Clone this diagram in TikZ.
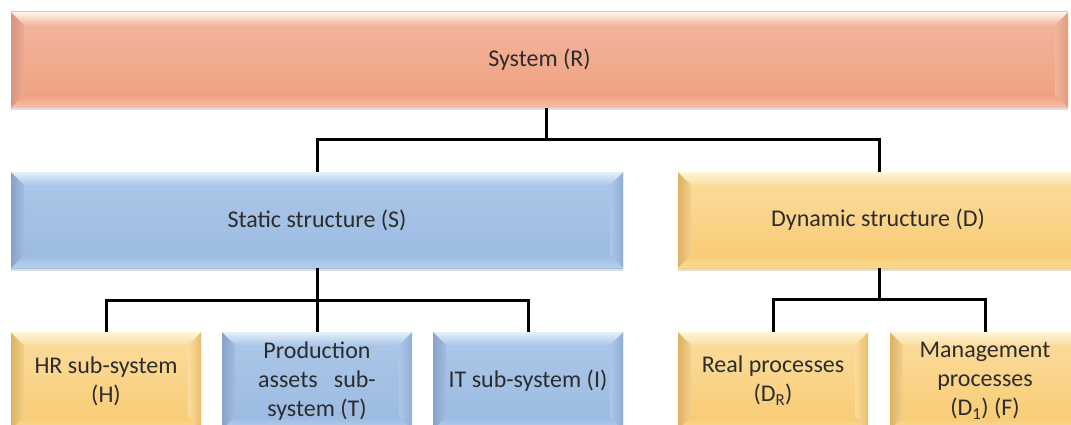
\documentclass[tikz,border=0pt]{standalone}
\usepackage{fontspec}
\setmainfont{Carlito}
\usetikzlibrary{calc,shadows}

% fill colours: top / bottom of the face, highlight and shaded bevel edge
\definecolor{salTop}{HTML}{F2B69F}
\definecolor{salBot}{HTML}{F1A07E}
\definecolor{salHi}{HTML}{FFF4E6}
\definecolor{salLo}{HTML}{D6957C}
\definecolor{bluTop}{HTML}{ACC7E8}
\definecolor{bluBot}{HTML}{9BBAE2}
\definecolor{bluHi}{HTML}{E6F0FA}
\definecolor{bluLo}{HTML}{86A2C9}
\definecolor{yelTop}{HTML}{FCDD9F}
\definecolor{yelBot}{HTML}{F8CA72}
\definecolor{yelHi}{HTML}{FFF6D8}
\definecolor{yelLo}{HTML}{DDB262}
\definecolor{ink}{HTML}{2C2C2C}

\tikzset{
  % bevelled box: #1 face top, #2 face bottom, #3 highlight, #4 dark edge
  bevel/.style n args={4}{
    top color=#1, bottom color=#2, draw=none,
    path picture={
      \path (path picture bounding box.north west) coordinate (bnw)
            (path picture bounding box.north east) coordinate (bne)
            (path picture bounding box.south west) coordinate (bsw)
            (path picture bounding box.south east) coordinate (bse);
      \shade[left color=#4, right color=#4!30!#1]
        (bnw) -- ([shift={(13pt,-13pt)}]bnw) -- ([shift={(13pt,13pt)}]bsw) -- (bsw) -- cycle;
      \shade[left color=#1, right color=#4!55!#2]
        (bne) -- ([shift={(-13pt,-13pt)}]bne) -- ([shift={(-13pt,13pt)}]bse) -- (bse) -- cycle;
      \shade[top color=#2, bottom color=#3!40!#2]
        (bsw) -- ([shift={(13pt,13pt)}]bsw) -- ([shift={(-13pt,13pt)}]bse) -- (bse) -- cycle;
      \shade[top color=#3, bottom color=#1]
        (bnw) -- (bne) -- ([shift={(-13pt,-13pt)}]bne) -- ([shift={(13pt,-13pt)}]bnw) -- cycle;
    }},
  box/.style={rectangle, inner sep=0pt, align=center, text=ink,
    font=\fontsize{24}{29}\selectfont,
    drop shadow={shadow xshift=0pt, shadow yshift=-2.5pt, opacity=0.25}},
  salbox/.style={box, bevel={salTop}{salBot}{salHi}{salLo}},
  blubox/.style={box, bevel={bluTop}{bluBot}{bluHi}{bluLo}},
  yelbox/.style={box, bevel={yelTop}{yelBot}{yelHi}{yelLo}},
  wide/.style={minimum height=96pt},
  leaf/.style={minimum width=190pt, minimum height=98pt},
  link/.style={draw=black, line width=3pt}
}

\begin{document}
\begin{tikzpicture}
  \fill[white] (0,0) rectangle (1071pt,-425pt);
  \useasboundingbox (0,0) rectangle (1071pt,-425pt);

  % top level
  \node[salbox, wide, minimum width=1057pt] (R) at (539.5pt,-60pt) {System (R)};

  % second level (the dynamic box runs past the right margin)
  \node[blubox, wide, minimum width=612pt] (S) at (317pt,-220pt) {Static structure (S)};
  \node[yelbox, wide, minimum width=424pt] (D) at (890pt,-220pt) {Dynamic structure (D)\hspace*{24pt}};

  % leaves
  \node[yelbox, leaf] (H) at (106pt,-381pt) {HR sub-system\\(H)};
  \node[blubox, leaf] (T) at (317pt,-381pt) {Production\\assets\hspace{0.45em} sub-\\system (T)};
  \node[blubox, leaf] (I) at (528pt,-381pt) {IT sub-system (I)};
  \node[yelbox, leaf] (DR) at (773pt,-381pt) {Real processes\\(D\textsubscript{R})};
  \node[yelbox, leaf, minimum width=214pt] (F) at (997pt,-381pt)
    {\begin{tabular}{@{}c@{}}Management\\processes\\(D\textsubscript{1}) (F)\end{tabular}\hspace*{24pt}};

  % connectors
  \coordinate (jR) at (546pt,-140pt);
  \coordinate (jD) at ($(DR.north)!0.5!(F.north) + (-6pt,32pt)$);
  \draw[link] (jR |- R.south) -- (jR);
  \draw[link] (S.north) |- (jR) -| (jD |- D.north);

  \coordinate (jS) at ($(S.south)!0.5!(T.north)$);
  \draw[link] (S.south) -- (T.north);
  \draw[link] (H.north) |- (jS) -| (I.north);

  \draw[link] (jD |- D.south) -- (jD);
  \draw[link] (DR.north) |- (jD) -| ([xshift=-12pt]F.north);
\end{tikzpicture}
\end{document}
